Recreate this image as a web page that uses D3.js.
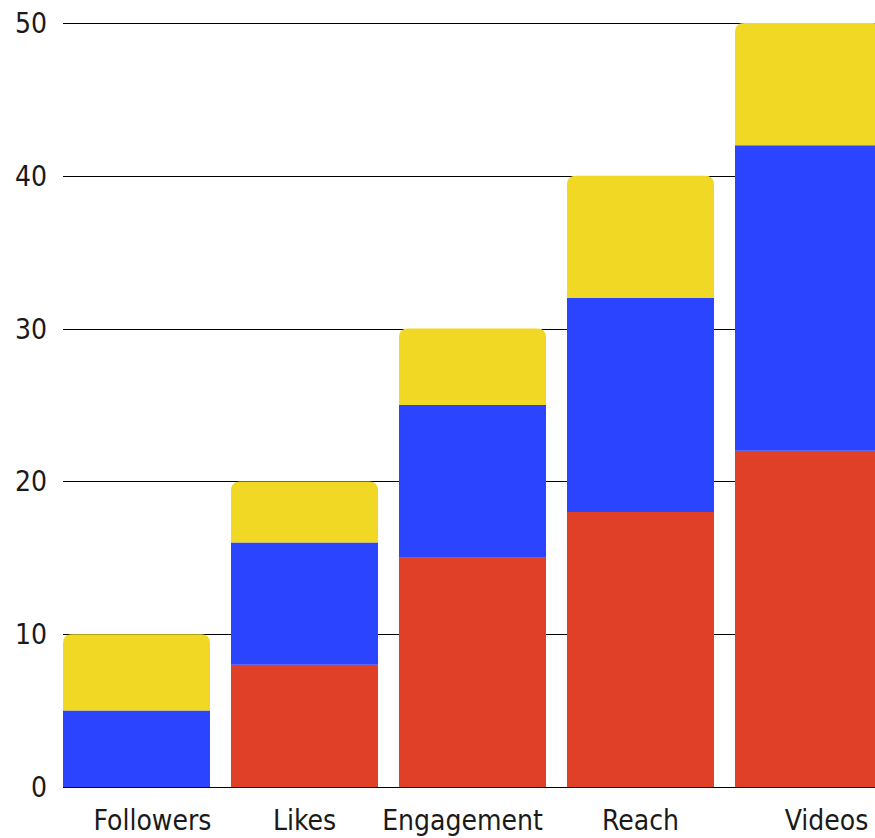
<!DOCTYPE html>
<html>
<head>
<meta charset="utf-8">
<script src="https://cdn.jsdelivr.net/npm/d3@7"></script>
<style>
    html, body { margin: 0; padding: 0; background: #fff; overflow: hidden; }
    svg { display: block; }
</style>
</head>
<body>
<svg id="chart" width="875" height="838"></svg>
<script>
// Data
const categories = ["Followers", "Likes", "Engagement", "Reach", "Videos"];
const redValues = [0, 8, 15, 18, 22];
const blueValues = [5, 8, 10, 14, 20];
const yellowValues = [5, 4, 5, 8, 8];
const yTicks = [0, 10, 20, 30, 40, 50];

const drawChart = () => {
    const svg = d3.select("#chart");
    const width = 875;

    // Colors
    const colors = ["#E03F28", "#2A44FF", "#F1D824"];
    const font = "'DejaVu Sans Condensed', 'Liberation Sans Narrow', Roboto, sans-serif";

    // layout
    const left = 63, top = 23, bottom = 787;
    const step = 168, gap = 21;
    const radius = 9;
    // label shifts seen in the original (x axis labels are not quite centred)
    const labelNudge = [16, 0, -10, 0, 18];

    const x = d3.scaleBand()
        .domain(categories)
        .range([left, left + categories.length * step - gap])
        .paddingInner(gap / step)
        .paddingOuter(0);

    const y = d3.scaleLinear().domain([0, 50]).range([bottom, top]);

    const rows = categories.map((c, i) => ({
        cat: c, red: redValues[i], blue: blueValues[i], yellow: yellowValues[i]
    }));
    const stacked = d3.stack().keys(["red", "blue", "yellow"])(rows);

    // grid lines
    svg.append("g")
        .selectAll("line")
        .data(yTicks)
        .enter()
        .append("line")
        .attr("x1", left)
        .attr("x2", width)
        .attr("y1", d => Math.round(y(d)) + 0.5)
        .attr("y2", d => Math.round(y(d)) + 0.5)
        .attr("stroke", "#000")
        .attr("stroke-width", 1);

    // rect with rounded top corners only
    function topRounded(x0, y0, w, h, r) {
        r = Math.min(r, h, w / 2);
        return `M${x0},${y0 + h}V${y0 + r}Q${x0},${y0} ${x0 + r},${y0}` +
            `H${x0 + w - r}Q${x0 + w},${y0} ${x0 + w},${y0 + r}V${y0 + h}Z`;
    }

    stacked.forEach((layer, li) => {
        svg.append("g")
            .selectAll("path")
            .data(layer.filter(d => d[1] > d[0]))
            .enter()
            .append("path")
            .attr("fill", colors[li])
            .attr("d", d => {
                const x0 = x(d.data.cat);
                const y0 = y(d[1]);
                const h = y(d[0]) - y(d[1]);
                if (li === 2) return topRounded(x0, y0, x.bandwidth(), h, radius);
                return `M${x0},${y0}h${x.bandwidth()}v${h}h${-x.bandwidth()}Z`;
            });
    });

    // y tick labels
    svg.append("g")
        .selectAll("text")
        .data(yTicks)
        .enter()
        .append("text")
        .attr("x", left - 16)
        .attr("y", d => y(d))
        .attr("dy", "0.36em")
        .attr("text-anchor", "end")
        .attr("font-family", font)
        .attr("font-size", 28)
        .attr("fill", "#1a1a1a")
        .text(d => d);

    // x labels
    svg.append("g")
        .selectAll("text")
        .data(categories)
        .enter()
        .append("text")
        .attr("x", (d, i) => x(d) + x.bandwidth() / 2 + labelNudge[i])
        .attr("y", 830)
        .attr("text-anchor", "middle")
        .attr("font-family", font)
        .attr("font-size", 28)
        .attr("fill", "#1a1a1a")
        .text(d => d);
};
drawChart();
</script>
</body>
</html>
